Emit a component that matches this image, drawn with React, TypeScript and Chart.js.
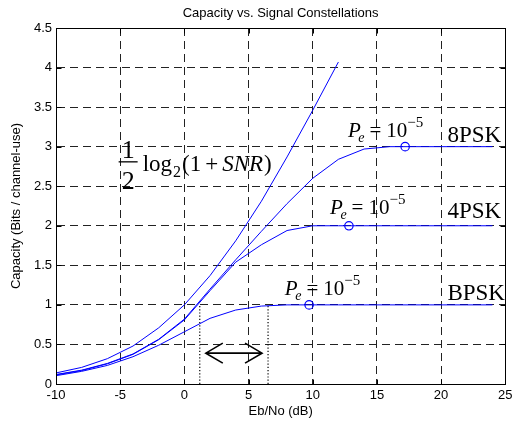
import React, { useEffect, useRef } from "react";
import { Chart, registerables } from "chart.js";

Chart.register(...registerables);

// ---------- data ----------
const EBNO = [-10, -8, -6, -4, -2, 0, 2, 4, 6, 8, 10, 12, 14, 16, 18, 20, 22, 24];
const SHANNON_EBNO = [-10, -8, -6, -4, -2, 0, 2, 4, 6, 8, 10, 12];
const SHANNON = [0.14, 0.21, 0.32, 0.48, 0.71, 1.0, 1.37, 1.81, 2.31, 2.87, 3.46, 4.07];
const BPSK = [0.105, 0.16, 0.235, 0.345, 0.49, 0.66, 0.83, 0.935, 0.985, 1.0, 1.0, 1.0, 1.0, 1.0, 1.0, 1.0, 1.0, 1.0];
const QPSK = [0.115, 0.17, 0.255, 0.375, 0.56, 0.81, 1.18, 1.54, 1.76, 1.94, 2.0, 2.0, 2.0, 2.0, 2.0, 2.0, 2.0, 2.0];
const PSK8 = [0.12, 0.175, 0.26, 0.38, 0.565, 0.82, 1.2, 1.57, 1.93, 2.28, 2.6, 2.84, 2.97, 3.0, 3.0, 3.0, 3.0, 3.0];

const MARKER_X = [9.72, 12.82, 17.2];
const MARKER_Y = [1, 2, 3];

const LIMIT_X = [1.2, 6.52];
const LIMIT_Y = [0, 1];
const ARROW_X = [1.67, 6.05];
const ARROW_Y = 0.39;

const X_TICKS = [-10, -5, 0, 5, 10, 15, 20, 25];
const X_LABELS = ["-10", "-5", "0", "5", "10", "15", "20", "25"];
const Y_TICKS = [0, 0.5, 1, 1.5, 2, 2.5, 3, 3.5, 4, 4.5];
const Y_LABELS = ["0", "0.5", "1", "1.5", "2", "2.5", "3", "3.5", "4", "4.5"];

const TITLE = "Capacity vs. Signal Constellations";
const X_TITLE = "Eb/No (dB)";
const Y_TITLE = "Capacity (Bits / channel-use)";

const MOD_NAMES = ["BPSK", "4PSK", "8PSK"];
const MOD_LABEL_X = 20.49;
const MOD_LABEL_Y = [1.062, 2.098, 3.06];
const PE_X = [7.83, 11.35, 12.74];
const PE_Y = [1.125, 2.145, 3.126];
const FORMULA_X = -5.12;
const FORMULA_Y = 2.69;

const SERIF = '"Liberation Serif", "Times New Roman", Times, serif';
const SANS = '"Liberation Sans", Arial, Helvetica, sans-serif';
const BLUE = "#0000ff";

function drawPe(ctx: CanvasRenderingContext2D, x: number, y: number) {
  const big = 21;
  const small = 14;
  ctx.textAlign = "left";
  ctx.textBaseline = "alphabetic";
  ctx.font = `italic ${big}px ${SERIF}`;
  ctx.fillText("P", x, y);
  let cx = x + ctx.measureText("P").width - 2.5;
  ctx.font = `italic ${small}px ${SERIF}`;
  ctx.fillText("e", cx, y + 5);
  cx += ctx.measureText("e").width + 5;
  ctx.font = `${big}px ${SERIF}`;
  ctx.fillText("=", cx, y);
  cx += ctx.measureText("=").width + 5;
  ctx.fillText("10", cx, y);
  cx += ctx.measureText("10").width;
  ctx.font = `${small + 1}px ${SERIF}`;
  ctx.fillText("\u22125", cx, y - 10);
}

function drawShannon(ctx: CanvasRenderingContext2D, x: number, y: number) {
  const f = 23;
  const ff = 26;
  ctx.textBaseline = "alphabetic";
  // fraction
  ctx.font = `${ff}px ${SERIF}`;
  const barW = 19;
  ctx.textAlign = "center";
  ctx.fillText("1", x + barW / 2, y - 13);
  ctx.fillText("2", x + barW / 2, y + 18);
  ctx.fillRect(x, y - 10, barW, 1.3);
  ctx.textAlign = "left";
  let cx = x + barW + 5;
  ctx.font = `${f}px ${SERIF}`;
  ctx.fillText("log", cx, y);
  cx += ctx.measureText("log").width + 1;
  ctx.font = `${Math.round(f * 0.68)}px ${SERIF}`;
  ctx.fillText("2", cx, y + 6);
  cx += ctx.measureText("2").width + 1;
  ctx.font = `${f}px ${SERIF}`;
  ctx.fillText("(1", cx, y);
  cx += ctx.measureText("(1").width + 4;
  ctx.fillText("+", cx, y);
  cx += ctx.measureText("+").width + 4;
  ctx.font = `italic ${f}px ${SERIF}`;
  ctx.fillText("SNR", cx, y);
  cx += ctx.measureText("SNR").width + 1;
  ctx.font = `${f}px ${SERIF}`;
  ctx.fillText(")", cx, y);
}

const annotationPlugin = {
  id: "annotations",
  afterDatasetsDraw(chart: any) {
    const { ctx, scales } = chart;
    const xs = scales.x;
    const ys = scales.y;
    ctx.save();
    ctx.fillStyle = "#000";
    PE_X.forEach((v, i) => drawPe(ctx, xs.getPixelForValue(v), ys.getPixelForValue(PE_Y[i])));
    ctx.font = `23px ${SERIF}`;
    ctx.textAlign = "left";
    ctx.textBaseline = "alphabetic";
    MOD_NAMES.forEach((n, i) =>
      ctx.fillText(n, xs.getPixelForValue(MOD_LABEL_X), ys.getPixelForValue(MOD_LABEL_Y[i]))
    );
    drawShannon(ctx, xs.getPixelForValue(FORMULA_X), ys.getPixelForValue(FORMULA_Y));

    // double arrow
    const ax0 = xs.getPixelForValue(ARROW_X[0]);
    const ax1 = xs.getPixelForValue(ARROW_X[1]);
    const ay = ys.getPixelForValue(ARROW_Y);
    ctx.strokeStyle = "#000";
    ctx.lineWidth = 1.6;
    ctx.beginPath();
    ctx.moveTo(ax0, ay);
    ctx.lineTo(ax1, ay);
    ctx.moveTo(ax0 + 17, ay - 10);
    ctx.lineTo(ax0, ay);
    ctx.lineTo(ax0 + 17, ay + 10);
    ctx.moveTo(ax1 - 17, ay - 10);
    ctx.lineTo(ax1, ay);
    ctx.lineTo(ax1 - 17, ay + 10);
    ctx.stroke();
    ctx.restore();
  },
  afterDraw(chart: any) {
    const { ctx, chartArea, scales } = chart;
    const { left, right, top, bottom } = chartArea;
    ctx.save();
    ctx.strokeStyle = "#000";
    ctx.lineWidth = 1;
    ctx.setLineDash([]);
    const L = Math.round(left) + 0.5;
    const R = Math.round(right) + 0.5;
    const T = Math.round(top) + 0.5;
    const B = Math.round(bottom) + 0.5;
    ctx.strokeRect(L, T, R - L, B - T);
    ctx.beginPath();
    X_TICKS.forEach((v) => {
      const px = Math.round(scales.x.getPixelForValue(v)) + 0.5;
      ctx.moveTo(px, B);
      ctx.lineTo(px, B - 5);
      ctx.moveTo(px, T);
      ctx.lineTo(px, T + 5);
    });
    Y_TICKS.forEach((v) => {
      const py = Math.round(scales.y.getPixelForValue(v)) + 0.5;
      ctx.moveTo(L, py);
      ctx.lineTo(L + 5, py);
      ctx.moveTo(R, py);
      ctx.lineTo(R - 5, py);
    });
    ctx.stroke();
    // title
    ctx.fillStyle = "#000";
    ctx.font = `13px ${SANS}`;
    ctx.textAlign = "center";
    ctx.textBaseline = "middle";
    ctx.fillText(TITLE, (left + right) / 2, 13);
    ctx.restore();
  },
};

function line(label: string, xs: number[], ys: number[]) {
  return {
    label,
    data: xs.map((x, i) => ({ x, y: ys[i] })),
    showLine: true,
    borderColor: BLUE,
    borderWidth: 1,
    pointRadius: 0,
    tension: 0,
    fill: false,
  };
}

export default function App() {
  const ref = useRef<HTMLCanvasElement | null>(null);

  useEffect(() => {
    if (!ref.current) return;
    const tickFont = { family: SANS, size: 13 };
    const chart = new Chart(ref.current, {
      type: "scatter",
      data: {
        datasets: [
          line("Shannon", SHANNON_EBNO, SHANNON),
          line("8PSK", EBNO, PSK8),
          line("4PSK", EBNO, QPSK),
          line("BPSK", EBNO, BPSK),
          {
            label: "Pe markers",
            data: MARKER_X.map((x, i) => ({ x, y: MARKER_Y[i] })),
            showLine: false,
            pointRadius: 4.2,
            pointBorderColor: BLUE,
            pointBackgroundColor: "rgba(0,0,0,0)",
            pointBorderWidth: 1.2,
          } as any,
          ...LIMIT_X.map((lx) => ({
            label: "limit",
            data: LIMIT_Y.map((y) => ({ x: lx, y })),
            showLine: true,
            borderColor: "#000",
            borderWidth: 1.2,
            borderDash: [1.2, 2],
            pointRadius: 0,
          })),
        ],
      },
      options: {
        animation: false,
        responsive: false,
        maintainAspectRatio: false,
        layout: { padding: { top: 28, right: 8, left: 0, bottom: 0 } },
        plugins: {
          legend: { display: false },
          tooltip: { enabled: false },
          title: { display: false },
        },
        scales: {
          x: {
            type: "linear",
            min: -10,
            max: 25,
            afterBuildTicks: (s: any) => {
              s.ticks = X_TICKS.map((v) => ({ value: v }));
            },
            afterFit: (s: any) => {
              s.height = 37;
            },
            ticks: {
              font: tickFont,
              color: "#000",
              padding: 3.5,
              maxRotation: 0,
              autoSkip: false,
              callback: (v: any) => X_LABELS[X_TICKS.indexOf(Number(v))] ?? "",
            },
            grid: { color: "#222", lineWidth: 1, drawTicks: false },
            border: { display: true, color: "#000", dash: [8, 5] },
            title: {
              display: true,
              text: X_TITLE,
              font: { family: SANS, size: 13 },
              color: "#000",
              padding: { top: 0, bottom: 1.5 },
            },
          },
          y: {
            type: "linear",
            min: 0,
            max: 4.5,
            afterBuildTicks: (s: any) => {
              s.ticks = Y_TICKS.map((v) => ({ value: v }));
            },
            afterFit: (s: any) => {
              s.width = 56;
            },
            ticks: {
              font: tickFont,
              color: "#000",
              padding: 4,
              autoSkip: false,
              callback: (v: any) => Y_LABELS[Y_TICKS.indexOf(Number(v))] ?? "",
            },
            grid: { color: "#222", lineWidth: 1, drawTicks: false },
            border: { display: true, color: "#000", dash: [8, 5] },
            title: {
              display: true,
              text: Y_TITLE,
              font: { family: SANS, size: 13 },
              color: "#000",
              padding: { top: 8.7, bottom: 0 },
            },
          },
        },
      } as any,
      plugins: [annotationPlugin],
    });
    return () => chart.destroy();
  }, []);

  return (
    <div style={{ position: "absolute", left: 0, top: 0, width: 516, height: 421, background: "#fff" }}>
      <canvas ref={ref} width={516} height={421} style={{ display: "block" }} />
    </div>
  );
}
